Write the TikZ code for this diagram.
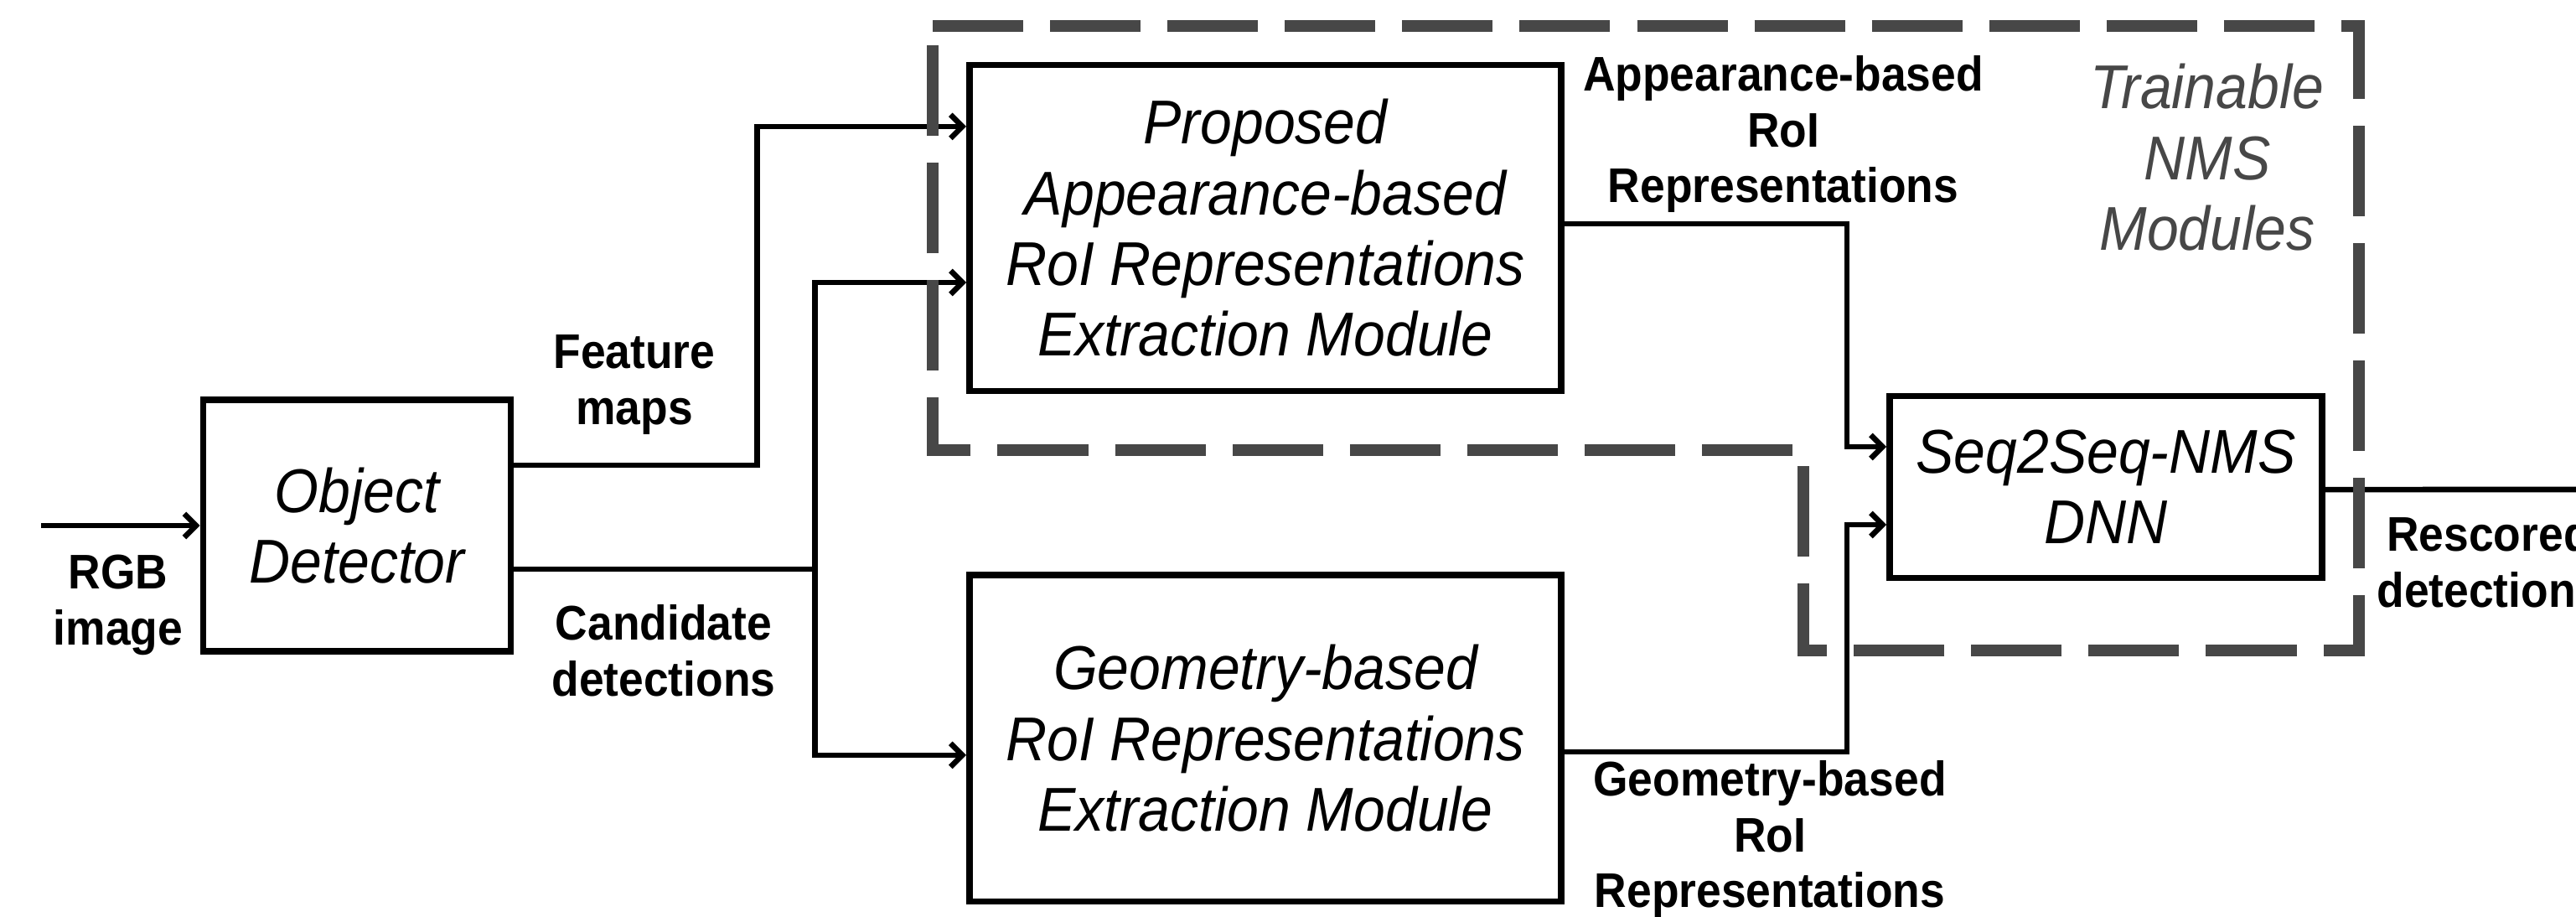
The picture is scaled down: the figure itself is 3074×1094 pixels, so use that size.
\documentclass[tikz,border=0pt]{standalone}
\usepackage{fontspec}
\setmainfont{Liberation Sans}
\newfontfamily\narrowsans[FakeStretch=0.92]{Liberation Sans}
\usetikzlibrary{positioning, arrows.meta}
\definecolor{NMSGray}{RGB}{71,71,71}

\begin{document}
\begin{tikzpicture}[x=0.01cm, y=-0.01cm]
        \tikzstyle{block} = [rectangle, draw=black, line width=0.075cm, align=center,
          inner sep=0pt, font=\narrowsans\fontsize{21}{24}\selectfont\itshape]
        \tikzstyle{lbl} = [align=center, inner sep=0pt, font=\narrowsans\fontsize{16.5}{19}\selectfont\bfseries]
        \tikzstyle{wire} = [line width=0.065cm]
        \tikzstyle{arr} = [wire, -{Straight Barb[length=4pt, width=8pt]}]
        \tikzstyle{nmsbox} = [draw=NMSGray, line width=0.14cm, dash pattern=on 1.08cm off 0.32cm]
        \useasboundingbox (0,0) rectangle (3074,1094);

        % blocks
        \node[block, minimum width=3.67cm, minimum height=3cm] (od) at (426,627) {Object\\Detector};
        \node[block, minimum width=7.06cm, minimum height=3.89cm] (prop) at (1510,272)
          {Proposed\\Appearance-based\\RoI Representations\\Extraction Module};
        \node[block, minimum width=7.06cm, minimum height=3.89cm, below=2.12cm of prop] (geo)
          {Geometry-based\\RoI Representations\\Extraction Module};
        \node[block, minimum width=5.16cm, minimum height=2.17cm] (s2s) at (2513,581) {Seq2Seq-NMS\\DNN};

        % connectors
        \coordinate (in) at (49,627);
        \coordinate (out) at (3100,584);
        \draw[arr] (in) -- (od.west);
        \draw[arr] ([yshift=0.72cm]od.east) -- ++(290,0) |- ([yshift=1.21cm]prop.west);
        \draw[wire] ([yshift=-0.52cm]od.east) -- ++(359,0) coordinate (split);
        \draw[arr] (split) |- ([yshift=-0.65cm]prop.west);
        \draw[arr] (split) |- ([yshift=-0.2cm]geo.west);
        \draw[arr] ([yshift=0.05cm]prop.east) -- ++(337,0) |- ([yshift=0.48cm]s2s.west);
        \draw[arr] ([yshift=-0.16cm]geo.east) -- ++(337,0) |- ([yshift=-0.45cm]s2s.west);
        \draw[wire] ([yshift=-0.03cm]s2s.east) -- (out);

        % trainable part
        \draw[nmsbox] (1113,31) -- (2815,31) -- (2815,776) -- (2152,776) -- (2152,537) -- (1113,537) -- cycle;
        \node[block, draw=none, text=NMSGray] (train) at (2634,188) {Trainable\\NMS\\Modules};

        % labels
        \node[lbl] (rgb) at (141,722) {RGB\\image};
        \node[lbl] (feat) at (757,459) {Feature\\maps};
        \node[lbl] (cand) at (792,776) {Candidate\\detections};
        \node[lbl] (applbl) at (2128,160) {Appearance-based\\RoI\\Representations};
        \node[lbl] (geolbl) at (2112,1001) {Geometry-based\\RoI\\Representations};
        \node[lbl] (resc) at (2970,670) {Rescored\\detections};
      \end{tikzpicture}
\end{document}
